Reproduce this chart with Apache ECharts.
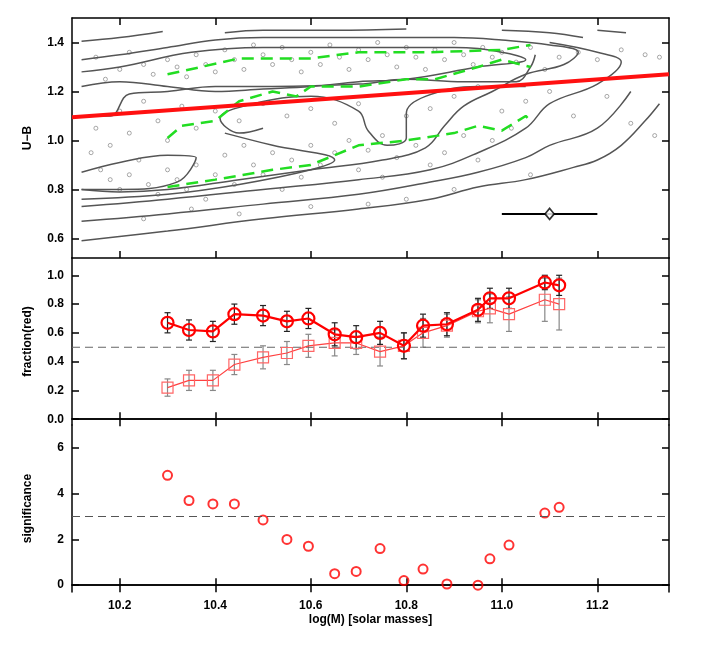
<!DOCTYPE html><html><head><meta charset="utf-8"><script src="https://cdn.jsdelivr.net/npm/echarts@6/dist/echarts.min.js"></script>
<style>body{margin:0;background:#fff}#c{width:708px;height:654px}</style></head><body><div id="c"></div><script>
const massBins=[10.30,10.345,10.395,10.44,10.50,10.55,10.595,10.65,10.695,10.745,10.795,10.835,10.885,10.95,10.975,11.015,11.09,11.12];
const fracAll=[0.67,0.62,0.61,0.73,0.72,0.68,0.70,0.59,0.57,0.60,0.51,0.65,0.66,0.76,0.84,0.84,0.95,0.93];
const fracAllErr=[0.07,0.07,0.07,0.07,0.07,0.07,0.07,0.08,0.08,0.08,0.09,0.08,0.08,0.08,0.07,0.07,0.05,0.07];
const fracSub=[0.22,0.27,0.27,0.38,0.43,0.46,0.51,0.53,0.53,0.47,0.51,0.60,0.65,0.75,0.77,0.73,0.83,0.80];
const fracSubErr=[0.06,0.07,0.07,0.07,0.08,0.08,0.08,0.09,0.08,0.1,0.09,0.1,0.08,0.08,0.1,0.12,0.15,0.18];
const signif=[4.8,3.7,3.55,3.55,2.85,2.0,1.7,0.5,0.6,1.6,0.2,0.7,0.05,0.0,1.15,1.75,3.15,3.4];
const redLine=[[10.1,1.095],[11.35,1.27]];
const green1=[[10.3,1.27],[10.37,1.30],[10.45,1.335],[10.6,1.335],[10.7,1.36],[10.85,1.36],[11.0,1.37],[11.06,1.39]];
const green2=[[10.3,1.01],[10.33,1.06],[10.4,1.08],[10.45,1.16],[10.52,1.20],[10.57,1.18],[10.6,1.22],[10.7,1.22],[10.8,1.25],[10.86,1.25],[10.95,1.30],[11.0,1.33],[11.06,1.30]];
const green3=[[10.3,0.81],[10.4,0.84],[10.52,0.88],[10.6,0.90],[10.7,0.98],[10.8,1.00],[10.9,1.03],[10.95,1.06],[11.0,1.04],[11.05,1.10],[11.06,1.08]];
const contours=[
[[10.12,1.405],[10.2,1.42],[10.29,1.445]],
[[10.42,1.44],[10.5,1.45],[10.65,1.45],[10.8,1.455]],
[[11.0,1.45],[11.1,1.44],[11.17,1.42]],
[[11.2,1.45],[11.26,1.44]],
[[10.12,1.33],[10.2,1.35],[10.3,1.38],[10.4,1.41],[10.5,1.42],[10.7,1.42],[10.9,1.42],[11.0,1.41],[11.1,1.39],[11.16,1.36],[11.13,1.31],[11.05,1.27],[10.98,1.20],[10.92,1.14],[10.88,1.06],[10.84,0.97],[10.75,0.92],[10.6,0.88],[10.45,0.84],[10.3,0.80],[10.2,0.79],[10.12,0.80]],
[[10.12,1.28],[10.2,1.30],[10.35,1.36],[10.5,1.38],[10.7,1.38],[10.9,1.38],[11.0,1.36],[11.05,1.33],[10.95,1.30],[10.8,1.25],[10.7,1.24],[10.6,1.22],[10.5,1.21],[10.4,1.20],[10.3,1.22],[10.2,1.24],[10.12,1.22]],
[[10.12,1.10],[10.18,1.10],[10.22,1.19],[10.3,1.20],[10.4,1.22],[10.52,1.22],[10.7,1.23],[10.8,1.25],[10.92,1.24],[11.03,1.24],[11.06,1.30],[11.07,1.35]],
[[10.5,1.05],[10.45,1.03],[10.41,1.09],[10.48,1.15],[10.6,1.18],[10.7,1.12],[10.72,1.04],[10.76,0.98],[10.8,1.01],[10.8,1.11],[10.84,1.18],[10.95,1.22],[11.05,1.22]],
[[10.12,0.87],[10.2,0.91],[10.3,0.94],[10.36,0.93],[10.32,0.83],[10.2,0.80],[10.12,0.80]],
[[10.12,0.76],[10.3,0.78],[10.45,0.82],[10.6,0.88],[10.65,0.92],[10.52,0.98],[10.42,1.03]],
[[10.12,0.73],[10.3,0.76],[10.5,0.80],[10.7,0.84],[10.85,0.88],[10.95,0.95],[11.05,1.05],[11.1,1.15],[11.2,1.23],[11.25,1.32],[11.2,1.36],[11.1,1.40]],
[[10.12,0.67],[10.3,0.70],[10.5,0.74],[10.7,0.78],[10.85,0.83],[10.95,0.87],[11.05,0.93],[11.1,0.98],[11.2,1.05],[11.27,1.20]],
[[10.12,0.59],[10.3,0.63],[10.5,0.68],[10.7,0.72],[10.85,0.76],[10.95,0.81],[11.05,0.84],[11.15,0.89],[11.2,0.92],[11.25,0.98],[11.3,1.08],[11.33,1.15]]
];
const galaxies=[[10.15,1.34],[10.17,1.25],[10.2,1.29],[10.22,1.36],[10.25,1.31],[10.27,1.27],[10.3,1.33],[10.32,1.30],[10.34,1.26],[10.36,1.35],[10.38,1.31],[10.4,1.28],[10.42,1.37],[10.44,1.33],[10.46,1.29],[10.48,1.39],[10.5,1.35],[10.52,1.31],[10.54,1.38],[10.56,1.33],[10.58,1.28],[10.6,1.36],[10.62,1.31],[10.64,1.39],[10.66,1.34],[10.68,1.29],[10.7,1.37],[10.72,1.33],[10.74,1.40],[10.76,1.35],[10.78,1.30],[10.8,1.38],[10.82,1.34],[10.84,1.29],[10.86,1.37],[10.88,1.33],[10.9,1.40],[10.92,1.35],[10.94,1.31],[10.96,1.38],[10.98,1.34],[11.0,1.36],[11.03,1.32],[11.06,1.38],[11.09,1.29],[11.12,1.34],[11.16,1.36],[11.2,1.33],[11.25,1.37],[11.3,1.35],[11.33,1.34],
[10.15,1.05],[10.18,0.98],[10.2,1.12],[10.22,1.03],[10.25,1.16],[10.28,1.08],[10.3,1.00],[10.33,1.14],[10.36,1.05],[10.4,1.12],[10.45,1.08],[10.5,1.15],[10.55,1.10],[10.6,1.13],[10.65,1.07],[10.7,1.15],[10.75,1.02],[10.8,1.10],[10.85,1.13],[10.9,1.18],[10.95,1.22],[11.0,1.12],[11.05,1.16],[11.1,1.20],[11.15,1.10],[11.22,1.18],[11.27,1.07],[11.32,1.02],
[10.14,0.95],[10.16,0.88],[10.18,0.84],[10.2,0.80],[10.22,0.86],[10.24,0.92],[10.26,0.82],[10.28,0.78],[10.3,0.88],[10.32,0.84],[10.34,0.80],[10.36,0.90],[10.38,0.76],[10.4,0.86],[10.42,0.94],[10.44,0.82],[10.46,0.98],[10.48,0.90],[10.5,0.86],[10.52,0.95],[10.54,0.80],[10.56,0.92],[10.58,0.85],[10.6,0.98],[10.62,0.90],[10.65,0.95],[10.68,1.00],[10.7,0.88],[10.72,0.96],[10.75,0.85],[10.78,0.93],[10.82,0.98],[10.85,0.90],[10.88,0.95],[10.92,1.02],[10.95,0.92],[10.98,1.00],[11.02,1.05],[11.06,0.86],[10.9,0.80],[10.45,0.70],[10.35,0.72],[10.25,0.68],[10.6,0.73],[10.72,0.74],[10.8,0.76]];
const errBarX=[[11.0,0.7],[11.2,0.7]];
const errPoint=[[11.1,0.7]];

const F='Liberation Sans';
const ax={axisLine:{show:true,lineStyle:{color:'#000',width:1.5}},splitLine:{show:false},axisTick:{inside:true,length:7,lineStyle:{color:'#000',width:1.5}},axisLabel:{color:'#000',fontFamily:F,fontSize:12,fontWeight:'bold'}};
const grids=[{left:72,right:39,top:18,height:240},{left:72,right:39,top:258,height:167},{left:72,right:39,top:425,height:167}];
const xt=[10.2,10.4,10.6,10.8,11.0,11.2];
const yRanges=[[0.52,1.5,[0.6,0.8,1.0,1.2,1.4],v=>v.toFixed(1),'U−B'],[-0.04,1.12,[0,0.2,0.4,0.6,0.8,1.0],v=>v.toFixed(1),'fraction(red)'],[-0.3,7,[0,2,4,6],v=>String(v),'significance']];
const nts={fontFamily:F,fontSize:12,color:'#000',fontWeight:'bold'};
const xAxis=[],yAxis=[];
for(let i=0;i<3;i++){
 xAxis.push(Object.assign({},ax,{gridIndex:i,type:'value',min:10.1,max:11.35,position:'bottom',axisTick:Object.assign({},ax.axisTick,{customValues:xt}),axisLabel:Object.assign({},ax.axisLabel,{show:i===2,customValues:xt,formatter:v=>v.toFixed(1)}),name:i===2?'log(M) [solar masses]':'',nameLocation:'middle',nameGap:22,nameTextStyle:nts}));
 xAxis.push(Object.assign({},ax,{gridIndex:i,type:'value',min:10.1,max:11.35,position:'top',axisTick:Object.assign({},ax.axisTick,{customValues:xt}),axisLabel:{show:false}}));
 const r=yRanges[i];
 yAxis.push(Object.assign({},ax,{gridIndex:i,type:'value',min:r[0],max:r[1],position:'left',axisTick:Object.assign({},ax.axisTick,{customValues:r[2]}),axisLabel:Object.assign({},ax.axisLabel,{customValues:r[2],formatter:r[3]}),name:r[4],nameLocation:'middle',nameGap:38,nameTextStyle:nts}));
 yAxis.push(Object.assign({},ax,{gridIndex:i,type:'value',min:r[0],max:r[1],position:'right',axisTick:Object.assign({},ax.axisTick,{customValues:r[2]}),axisLabel:{show:false}}));
}
function errSeries(xs,ys,es,color,xi,yi){
 return {type:'custom',xAxisIndex:xi,yAxisIndex:yi,z:1,data:xs.map((x,i)=>[x,ys[i]-es[i],ys[i]+es[i]]),
  renderItem:(p,api)=>{const a=api.coord([api.value(0),api.value(1)]),b=api.coord([api.value(0),api.value(2)]);
   const st={stroke:color,lineWidth:1.2};
   return {type:'group',children:[{type:'line',shape:{x1:a[0],y1:a[1],x2:b[0],y2:b[1]},style:st},{type:'line',shape:{x1:a[0]-3,y1:a[1],x2:a[0]+3,y2:a[1]},style:st},{type:'line',shape:{x1:b[0]-3,y1:b[1],x2:b[0]+3,y2:b[1]},style:st}]};}};
}
const series=[];
series.push({type:'scatter',xAxisIndex:0,yAxisIndex:0,data:galaxies,symbol:'circle',symbolSize:4,itemStyle:{color:'#fff',borderColor:'#777',borderWidth:0.8},silent:true});
contours.forEach(c=>series.push({type:'line',xAxisIndex:0,yAxisIndex:0,data:c,smooth:0.4,symbol:'none',lineStyle:{color:'#555',width:1.5},silent:true}));
[green1,green2,green3].forEach(g=>series.push({type:'line',xAxisIndex:0,yAxisIndex:0,data:g,symbol:'none',z:4,lineStyle:{color:'#22dd22',width:2.5,type:[12,7]}}));
series.push({type:'line',xAxisIndex:0,yAxisIndex:0,data:redLine,symbol:'none',z:5,lineStyle:{color:'#ff1010',width:4}});
series.push({type:'line',xAxisIndex:0,yAxisIndex:0,data:errBarX,symbol:'none',lineStyle:{color:'#000',width:2}});
series.push({type:'scatter',xAxisIndex:0,yAxisIndex:0,data:errPoint,symbol:'diamond',symbolSize:[9,11],itemStyle:{color:'#fff',borderColor:'#000',borderWidth:1.8},z:6});
series.push({type:'line',xAxisIndex:2,yAxisIndex:2,data:[[10.1,0.5],[11.35,0.5]],symbol:'none',lineStyle:{color:'#666',width:1,type:[8,5]}});
series.push(errSeries(massBins,fracSub,fracSubErr,'#888',2,2));
series.push(errSeries(massBins,fracAll,fracAllErr,'#222',2,2));
series.push({type:'line',xAxisIndex:2,yAxisIndex:2,data:massBins.map((x,i)=>[x,fracSub[i]]),symbol:'rect',symbolSize:11,showAllSymbol:true,z:3,itemStyle:{color:'rgba(255,255,255,0)',borderColor:'#ff6666',borderWidth:1.2},lineStyle:{color:'#ff4040',width:1.2}});
series.push({type:'line',xAxisIndex:2,yAxisIndex:2,data:massBins.map((x,i)=>[x,fracAll[i]]),symbol:'circle',symbolSize:12,showAllSymbol:true,z:4,itemStyle:{color:'rgba(255,255,255,0)',borderColor:'#ff0000',borderWidth:2.2},lineStyle:{color:'#ff0000',width:2.2}});
series.push({type:'line',xAxisIndex:4,yAxisIndex:4,data:[[10.1,3],[11.35,3]],symbol:'none',lineStyle:{color:'#555',width:1,type:[8,5]}});
series.push({type:'scatter',xAxisIndex:4,yAxisIndex:4,data:massBins.map((x,i)=>[x,signif[i]]),symbol:'circle',symbolSize:9,itemStyle:{color:'rgba(255,255,255,0)',borderColor:'#ff0000',borderWidth:2}});
const chart=echarts.init(document.getElementById('c'));
chart.setOption({animation:false,backgroundColor:'#fff',grid:grids,xAxis,yAxis,series});
</script></body></html>
